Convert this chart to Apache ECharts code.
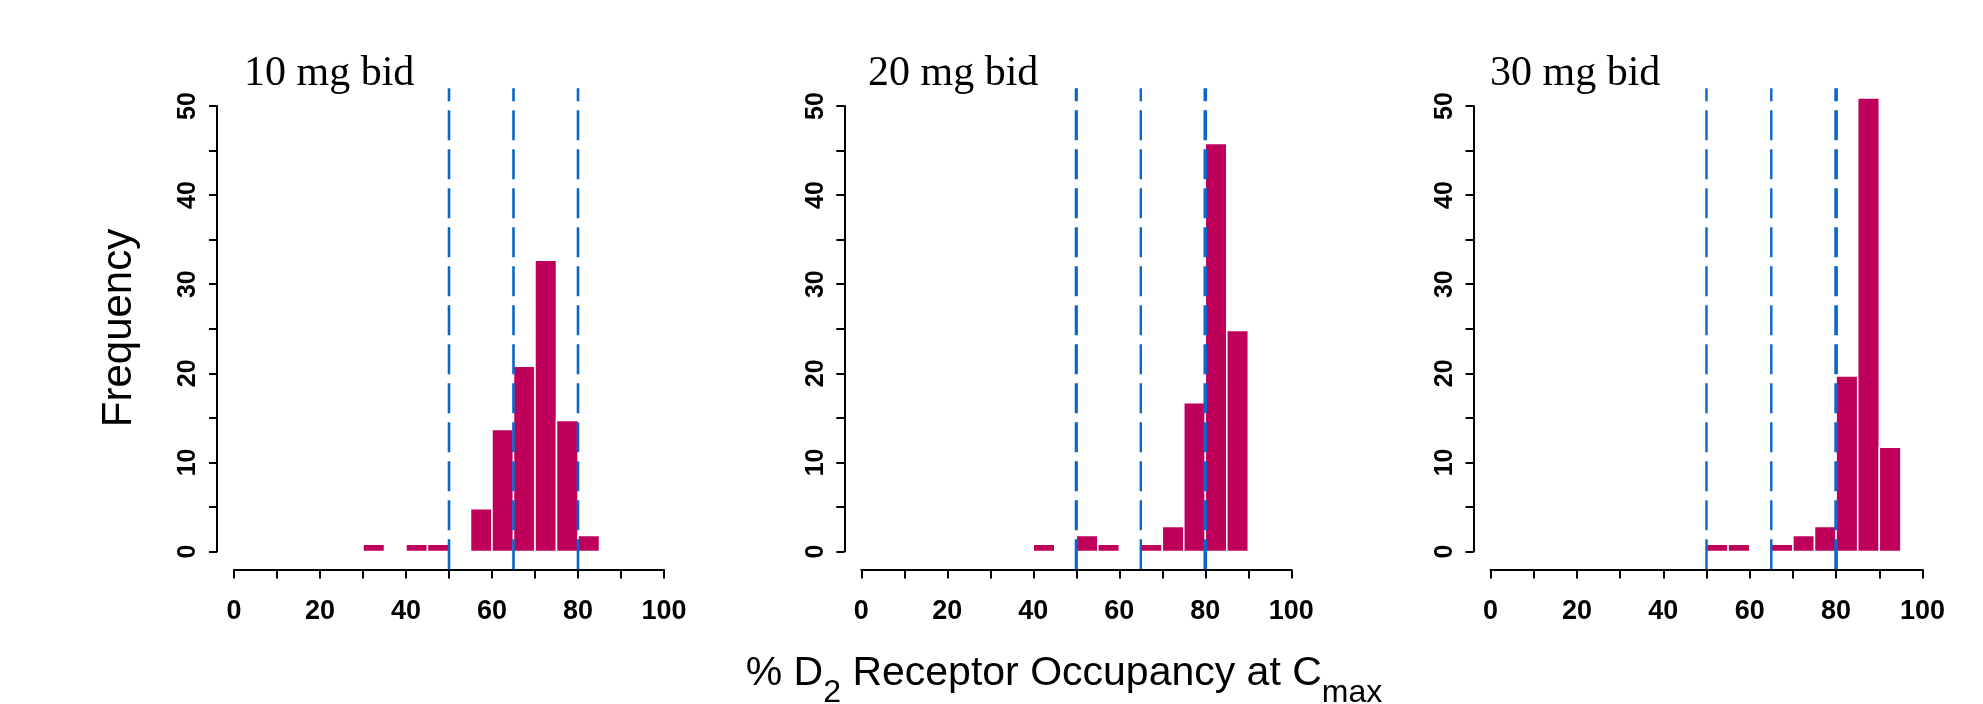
<!DOCTYPE html>
<html><head><meta charset="utf-8">
<script src="https://cdn.jsdelivr.net/npm/echarts@6/dist/echarts.min.js"></script>
<style>html,body{margin:0;padding:0;background:#fff}#c{width:1983px;height:704px}</style>
</head><body><div id="c"></div>
<script>
// ---- data ----
const panelTitles = ['10 mg bid', '20 mg bid', '30 mg bid'];
const binStarts = [30, 35, 40, 45, 50, 55, 60, 65, 70, 75, 80, 85, 90];
const binWidth = 5;
const freq10 = [0.8, 0, 0.8, 0.8, 0, 4.8, 13.7, 20.8, 32.7, 14.7, 1.8, 0, 0];
const freq20 = [0, 0, 0.8, 0, 1.8, 0.8, 0, 0.8, 2.8, 16.7, 45.8, 24.8, 0];
const freq30 = [0, 0, 0, 0, 0.8, 0.8, 0, 0.8, 1.8, 2.8, 19.7, 50.9, 11.7];
const refLines = [50, 65, 80];
const xTickValues = [0, 10, 20, 30, 40, 50, 60, 70, 80, 90, 100];
const xLabelValues = [0, 20, 40, 60, 80, 100];
const yTickValues = [0, 5, 10, 15, 20, 25, 30, 35, 40, 45, 50];
const yLabelValues = [0, 10, 20, 30, 40, 50];
const yAxisTitle = 'Frequency';
const xAxisTitleParts = ['% D', '2', ' Receptor Occupancy at C', 'max'];

// ---- layout / style ----
const series = [freq10, freq20, freq30];
const layout = [
  { left: 234, width: 430, titleX: 244, refW: [2.6, 2.6, 2.6] },
  { left: 861.3, width: 430, titleX: 868, refW: [3.2, 2.4, 3.6] },
  { left: 1490.5, width: 432, titleX: 1490, refW: [2.4, 2.4, 3.6] }
];
const gridTop = 106, gridHeight = 445.5;
const plotYMin = -2, plotYMax = 52;
const barColor = '#BF005B';
const lineColor = '#0B66CC';
const sans = "'Liberation Sans', Arial, Helvetica, sans-serif";

const grids = [], xAxes = [], yAxes = [], allSeries = [], graphics = [];
layout.forEach((L, i) => {
  grids.push({ left: L.left, top: gridTop, width: L.width, height: gridHeight, containLabel: false });
  xAxes.push({
    type: 'value', gridIndex: i, min: 0, max: 100, position: 'bottom', offset: 18,
    axisLine: { show: true, onZero: false, lineStyle: { color: '#000', width: 2 } },
    axisTick: { show: true, customValues: xTickValues, length: 9, lineStyle: { color: '#000', width: 2 } },
    axisLabel: { show: true, customValues: xLabelValues, margin: 29, color: '#000', fontSize: 27, fontWeight: 'bold', fontFamily: sans },
    splitLine: { show: false }
  });
  yAxes.push({
    type: 'value', gridIndex: i, min: 0, max: 50, position: 'left', offset: 17,
    axisLine: { show: true, onZero: false, lineStyle: { color: '#000', width: 2 } },
    axisTick: { show: true, customValues: yTickValues, length: 8, lineStyle: { color: '#000', width: 2 } },
    axisLabel: { show: true, customValues: yLabelValues, rotate: 90, margin: 16, color: '#000', fontSize: 25, fontWeight: 'bold', fontFamily: sans },
    splitLine: { show: false }
  });
  allSeries.push({
    type: 'custom', xAxisIndex: i, yAxisIndex: i, z: 2, silent: true,
    encode: { x: 0, y: 1 },
    data: binStarts.map((b, k) => [b, series[i][k]]),
    renderItem: (params, api) => {
      const x0 = api.value(0), h = api.value(1);
      if (!h) return null;
      const p1 = api.coord([x0, h]);
      const p2 = api.coord([x0 + binWidth, 0]);
      return { type: 'rect', shape: { x: p1[0], y: p1[1], width: p2[0] - p1[0], height: p2[1] - p1[1] },
        style: { fill: barColor, stroke: '#fff', lineWidth: 1.5 } };
    }
  });
  refLines.forEach((v, k) => {
    allSeries.push({
      type: 'line', xAxisIndex: i, yAxisIndex: i, z: 5, silent: true, clip: false,
      symbol: 'none', animation: false,
      data: [[v, plotYMin], [v, plotYMax]],
      lineStyle: { color: lineColor, width: L.refW[k], type: [30, 9] }
    });
  });
  graphics.push({
    type: 'text', left: L.titleX, top: 53,
    style: { text: panelTitles[i], font: "42px 'Liberation Serif', 'Times New Roman', serif", fill: '#000' }
  });
});

graphics.push({
  type: 'text', x: 119, y: 328, rotation: Math.PI / 2,
  style: { text: yAxisTitle, fontSize: 42, fontFamily: sans, fill: '#000', align: 'center', verticalAlign: 'middle' }
});
graphics.push({
  type: 'text', x: 1064, y: 653,
  style: {
    text: '{a|' + xAxisTitleParts[0] + '}{s|' + xAxisTitleParts[1] + '}{a|' + xAxisTitleParts[2] + '}{s|' + xAxisTitleParts[3] + '}',
    align: 'center', verticalAlign: 'top',
    rich: {
      a: { fontSize: 41, fontFamily: sans, color: '#000', lineHeight: 46, verticalAlign: 'top' },
      s: { fontSize: 32, fontFamily: sans, color: '#000', lineHeight: 32, padding: [24, 0, 0, 0], verticalAlign: 'top' }
    }
  }
});

const chart = echarts.init(document.getElementById('c'), null, { renderer: 'canvas' });
chart.setOption({
  animation: false,
  backgroundColor: '#fff',
  grid: grids, xAxis: xAxes, yAxis: yAxes, series: allSeries, graphic: graphics
});
</script>
</body></html>
